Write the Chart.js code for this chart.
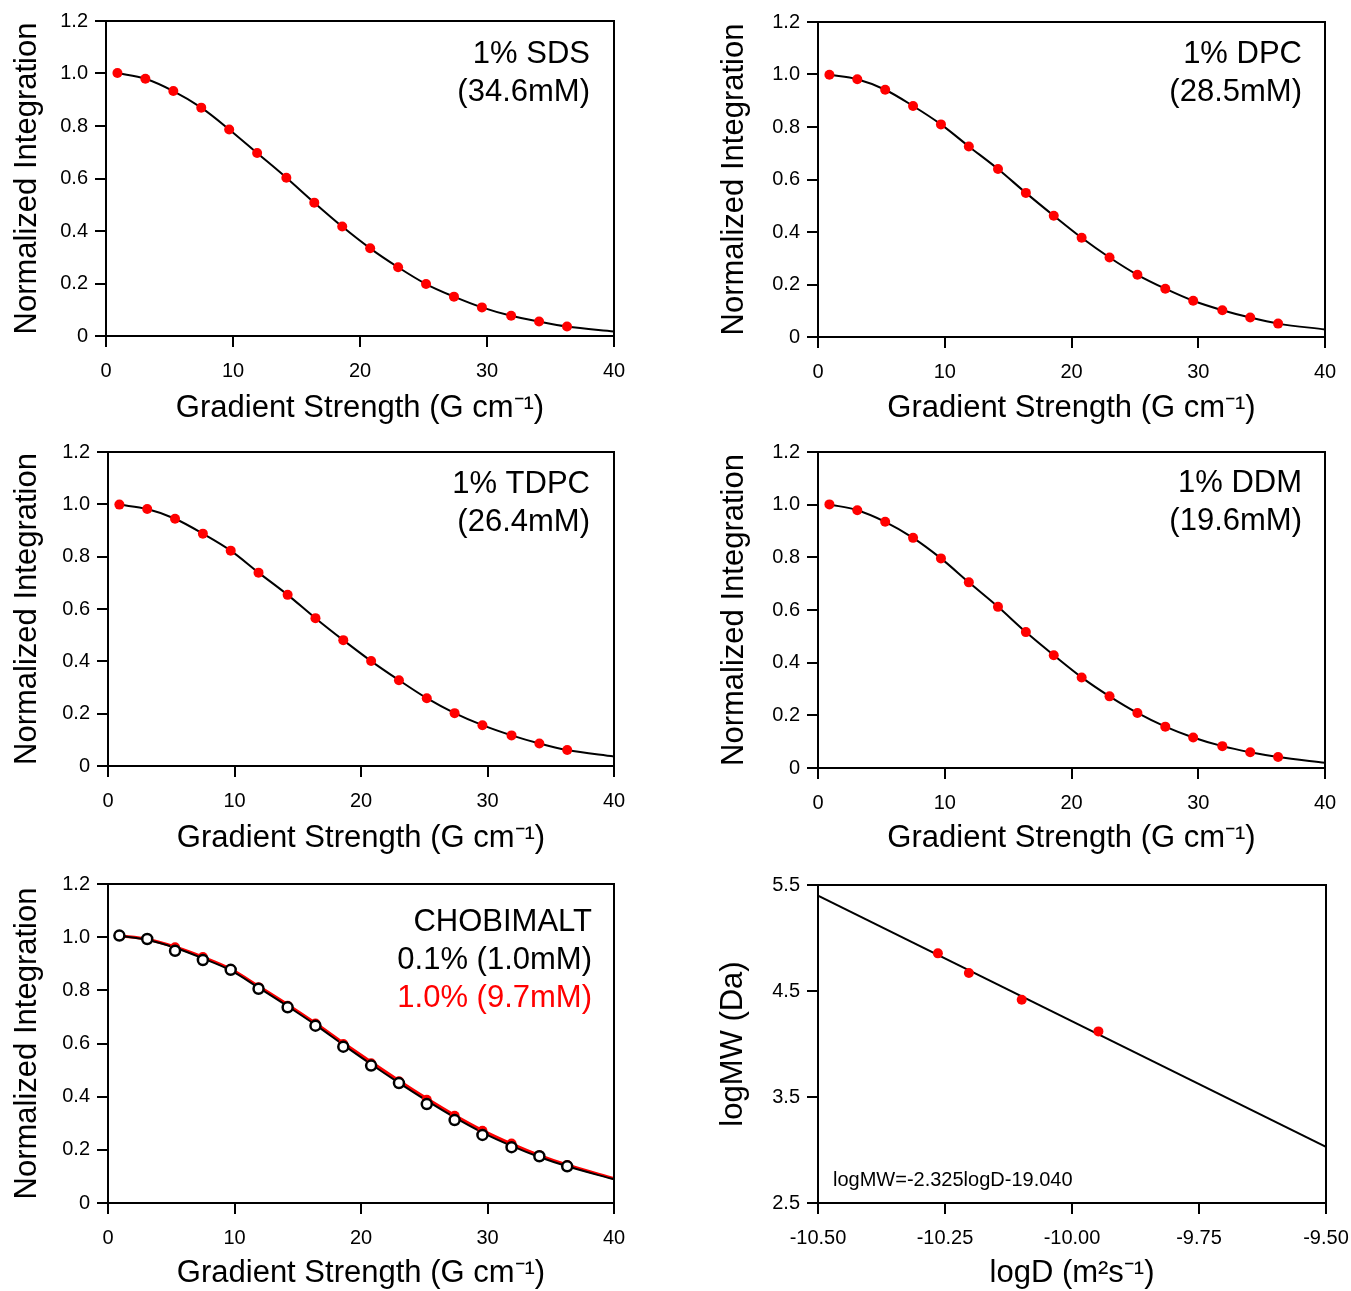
<!DOCTYPE html>
<html>
<head>
<meta charset="utf-8">
<script src="https://cdn.jsdelivr.net/npm/chart.js@4.4.1/dist/chart.umd.min.js"></script>
<style>
  html, body { margin: 0; padding: 0; background: #fff; overflow: hidden; }
  #wrap { position: relative; width: 1351px; height: 1291px; overflow: hidden; }
  canvas { position: absolute; }
</style>
</head>
<body>
<div id="wrap"></div>
<script>
// gradient strengths (G/cm) of the diffusion points, same for all detergents
const gradient = [0.9, 3.1, 5.3, 7.5, 9.7, 11.9, 14.2, 16.4, 18.6, 20.8, 23.0, 25.2, 27.4, 29.6, 31.9, 34.1, 36.3];

// normalized integrals
const sds  = [1.002, 0.980, 0.933, 0.870, 0.787, 0.697, 0.603, 0.508, 0.417, 0.334, 0.262, 0.198, 0.150, 0.109, 0.077, 0.055, 0.036];
const dpc  = [0.999, 0.982, 0.942, 0.880, 0.810, 0.726, 0.640, 0.549, 0.462, 0.378, 0.303, 0.237, 0.184, 0.138, 0.102, 0.074, 0.051];
const tdpc = [0.999, 0.982, 0.945, 0.888, 0.823, 0.739, 0.654, 0.565, 0.481, 0.401, 0.328, 0.259, 0.202, 0.156, 0.117, 0.086, 0.061];
const ddm  = [1.001, 0.979, 0.935, 0.874, 0.796, 0.705, 0.612, 0.516, 0.428, 0.344, 0.272, 0.209, 0.157, 0.116, 0.083, 0.060, 0.042];
const chob01 = [1.006, 0.993, 0.949, 0.914, 0.877, 0.806, 0.736, 0.667, 0.588, 0.517, 0.451, 0.372, 0.312, 0.256, 0.210, 0.176, 0.138];
const chob10 = [1.005, 0.993, 0.962, 0.925, 0.880, 0.812, 0.742, 0.675, 0.598, 0.526, 0.458, 0.388, 0.328, 0.272, 0.224, 0.180, 0.143];

// fitted curves (read at the same gradients), last value at 40 G/cm
const chob01Fit = [1.005, 0.990, 0.960, 0.920, 0.875, 0.810, 0.740, 0.670, 0.595, 0.522, 0.452, 0.385, 0.322, 0.265, 0.215, 0.173, 0.138];
const chob10Fit = [1.005, 0.992, 0.963, 0.925, 0.880, 0.815, 0.746, 0.676, 0.602, 0.530, 0.460, 0.393, 0.330, 0.273, 0.222, 0.179, 0.143];
const fitEnd = { sds: 0.017, dpc: 0.029, tdpc: 0.036, ddm: 0.020, chob01: 0.089, chob10: 0.092 };

// calibration panel
const logD  = [-10.264, -10.203, -10.099, -9.948];
const logMW = [4.855, 4.670, 4.418, 4.119];
const lineLogD  = [-10.5, -9.5];
const lineLogMW = [5.40, 3.03];

// tick labels
const normTicks  = [0, 0.2, 0.4, 0.6, 0.8, 1.0, 1.2];
const gradTicks  = [0, 10, 20, 30, 40];
const logDTicks  = [-10.5, -10.25, -10.0, -9.75, -9.5];
const logMWTicks = [2.5, 3.5, 4.5, 5.5];

const FONT = '"Liberation Sans", Arial, Helvetica, sans-serif';
const RED = '#ff0000';
const AXW = 106, AXH = 94, TOP = 21, RIGHT = 40;

function pts(xs, ys) { return xs.map((x, i) => ({ x: x, y: ys[i] })); }
function withEnd(xs, ys, end) { return pts(xs, ys).concat([{ x: 40, y: end }]); }

function fitLine(data, color, width) {
  return { type: 'line', data: data, borderColor: color, borderWidth: width, pointRadius: 0,
           cubicInterpolationMode: 'monotone', fill: false };
}
function redDots(data) {
  return { type: 'scatter', data: data, backgroundColor: RED, borderColor: RED, borderWidth: 0, pointRadius: 5 };
}

function panel(p) {
  const cv = document.createElement('canvas');
  const w = (p.r - p.l) + AXW + RIGHT, h = (p.b - p.t) + TOP + AXH;
  const cl = p.l - AXW, ct = p.t - TOP;
  cv.width = w; cv.height = h;
  cv.style.left = cl + 'px'; cv.style.top = ct + 'px';
  cv.style.width = w + 'px'; cv.style.height = h + 'px';
  document.getElementById('wrap').appendChild(cv);

  const tickFont = { family: FONT, size: 20, lineHeight: 1.2 };
  const titleFont = { family: FONT, size: 31, lineHeight: 1.2 };
  const gridOpts = { display: true, drawOnChartArea: false, drawTicks: true, tickLength: 11, color: '#000', lineWidth: 2 };

  const frame = {
    id: 'frame',
    afterDatasetsDraw(chart) {
      const { ctx, chartArea: a } = chart;
      ctx.save();
      ctx.strokeStyle = '#000';
      ctx.lineWidth = 2;
      ctx.strokeRect(a.left, a.top, a.right - a.left, a.bottom - a.top);
      ctx.textBaseline = 'middle';
      (p.notes || []).forEach(n => {
        ctx.font = (n.size || 31) + 'px ' + FONT;
        ctx.fillStyle = n.color || '#000';
        ctx.textAlign = n.left ? 'left' : 'right';
        const x = n.left ? a.left + n.dx : a.right - n.dx;
        ctx.fillText(n.text, x, a.top + n.dy);
      });
      ctx.restore();
    }
  };

  new Chart(cv, {
    type: 'scatter',
    data: { datasets: p.datasets },
    options: {
      responsive: false,
      animation: false,
      devicePixelRatio: 1,
      layout: { padding: { top: TOP, right: RIGHT, left: 0, bottom: 0 } },
      plugins: { legend: { display: false }, tooltip: { enabled: false } },
      scales: {
        x: {
          type: 'linear', position: 'bottom', min: p.xMin, max: p.xMax,
          afterBuildTicks: s => { s.ticks = p.xTicks.map(v => ({ value: v })); },
          afterFit: s => { s.height = AXH; },
          ticks: { callback: p.xFmt, font: tickFont, color: '#000', padding: 12, maxRotation: 0, autoSkip: false },
          grid: gridOpts,
          border: { display: true, color: '#000', width: 2 },
          title: { display: true, text: p.xTitle, font: titleFont, color: '#000',
                   padding: { top: 0, bottom: (p.b + AXH) - p.xTitleY - 18.6 } }
        },
        y: {
          type: 'linear', position: 'left', min: p.yMin, max: p.yMax,
          afterBuildTicks: s => { s.ticks = p.yTicks.map(v => ({ value: v })); },
          afterFit: s => { s.width = AXW; },
          ticks: { callback: p.yFmt, font: tickFont, color: '#000', padding: 7, autoSkip: false },
          grid: gridOpts,
          border: { display: true, color: '#000', width: 2 },
          title: { display: true, text: p.yTitle, font: titleFont, color: '#000',
                   padding: { top: p.yTitleX - cl - 18.6, bottom: 0 } }
        }
      }
    },
    plugins: [frame]
  });
}

const fmtNorm = v => (v === 0 ? '0' : v.toFixed(1));
const fmtGrad = v => String(v);
const gradTitle = 'Gradient Strength (G cm\u207B\u00B9)';
const normTitle = 'Normalized Integration';

function normPanel(box, ys, end, label, conc) {
  panel(Object.assign({}, box, {
    xMin: 0, xMax: 40, yMin: 0, yMax: 1.2, xTicks: gradTicks, yTicks: normTicks,
    xFmt: fmtGrad, yFmt: fmtNorm, xTitle: gradTitle, yTitle: normTitle,
    datasets: [redDots(pts(gradient, ys)), fitLine(withEnd(gradient, ys, end), '#000', 2)],
    notes: [{ text: label, dx: box.ndx, dy: box.ndy }, { text: conc, dx: box.ndx, dy: box.ndy + 38 }]
  }));
}

normPanel({ l: 106, t: 21, r: 614, b: 336, yTitleX: 27, xTitleY: 408, ndx: 24, ndy: 33 }, sds, fitEnd.sds, '1% SDS', '(34.6mM)');
normPanel({ l: 818, t: 22, r: 1325, b: 337, yTitleX: 734, xTitleY: 408, ndx: 23, ndy: 32 }, dpc, fitEnd.dpc, '1% DPC', '(28.5mM)');
normPanel({ l: 108, t: 452, r: 614, b: 766, yTitleX: 27, xTitleY: 838, ndx: 24, ndy: 32 }, tdpc, fitEnd.tdpc, '1% TDPC', '(26.4mM)');
normPanel({ l: 818, t: 452, r: 1325, b: 768, yTitleX: 734, xTitleY: 838, ndx: 23, ndy: 31 }, ddm, fitEnd.ddm, '1% DDM', '(19.6mM)');

// CHOBIMALT panel: two concentrations
panel({
  l: 108, t: 884, r: 614, b: 1203, yTitleX: 27, xTitleY: 1273,
  xMin: 0, xMax: 40, yMin: 0, yMax: 1.2, xTicks: gradTicks, yTicks: normTicks,
  xFmt: fmtGrad, yFmt: fmtNorm, xTitle: gradTitle, yTitle: normTitle,
  datasets: [
    { type: 'scatter', data: pts(gradient, chob01), backgroundColor: '#fff', borderColor: '#000', borderWidth: 2.5, pointRadius: 5 },
    redDots(pts(gradient, chob10)),
    fitLine(withEnd(gradient, chob01Fit, fitEnd.chob01), '#000', 2),
    fitLine(withEnd(gradient, chob10Fit, fitEnd.chob10), RED, 3)
  ],
  notes: [
    { text: 'CHOBIMALT', dx: 22, dy: 38 },
    { text: '0.1% (1.0mM)', dx: 22, dy: 76 },
    { text: '1.0% (9.7mM)', dx: 22, dy: 114, color: RED }
  ]
});

// logMW vs logD calibration
panel({
  l: 818, t: 885, r: 1326, b: 1203, yTitleX: 733, xTitleY: 1273,
  xMin: -10.5, xMax: -9.5, yMin: 2.5, yMax: 5.5, xTicks: logDTicks, yTicks: logMWTicks,
  xFmt: v => v.toFixed(2), yFmt: v => v.toFixed(1),
  xTitle: 'logD (m\u00B2s\u207B\u00B9)', yTitle: 'logMW (Da)',
  datasets: [
    redDots(pts(logD, logMW)),
    { type: 'line', data: pts(lineLogD, lineLogMW), borderColor: '#000', borderWidth: 2, pointRadius: 0, fill: false }
  ],
  notes: [{ text: 'logMW=-2.325logD-19.040', left: true, dx: 15, dy: 295, size: 20 }]
});
</script>
</body>
</html>
